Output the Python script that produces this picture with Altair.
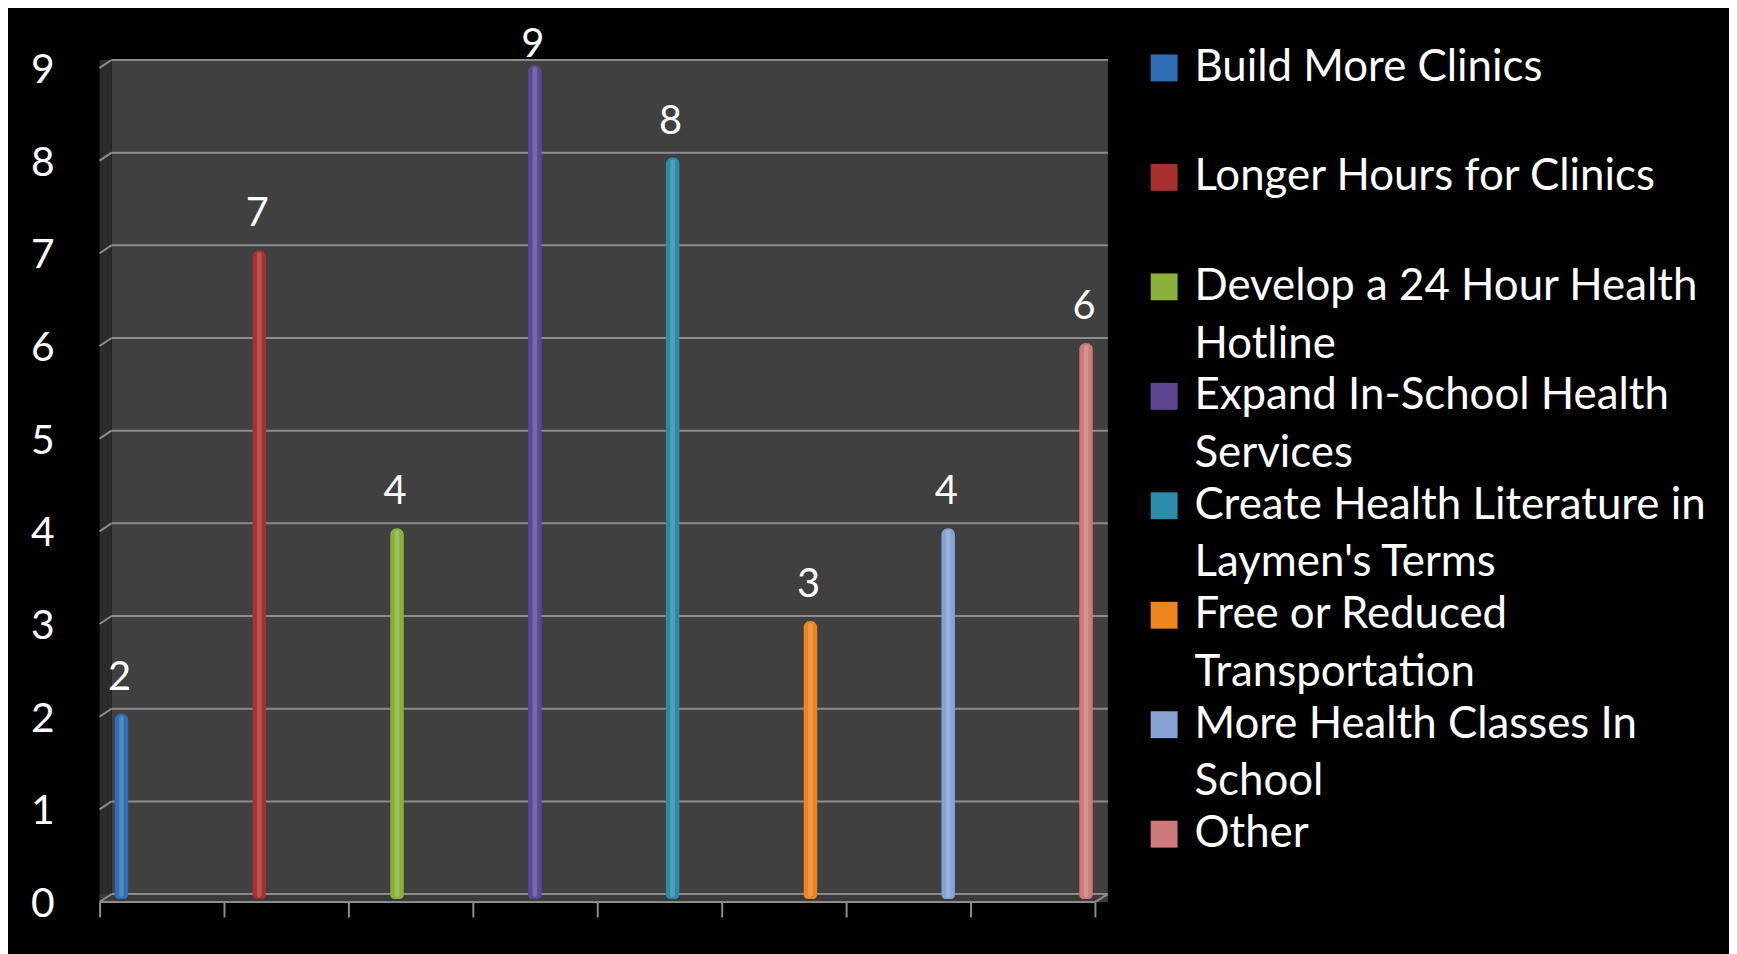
import altair as alt
import pandas as pd

# ---------------- data ----------------
categories = [
    "Build More Clinics",
    "Longer Hours for Clinics",
    "Develop a 24 Hour Health Hotline",
    "Expand In-School Health Services",
    "Create Health Literature in Laymen's Terms",
    "Free or Reduced Transportation",
    "More Health Classes In School",
    "Other",
]
legend_lines = [
    "Build More Clinics",
    "Longer Hours for Clinics",
    "Develop a 24 Hour Health\nHotline",
    "Expand In-School Health\nServices",
    "Create Health Literature in\nLaymen's Terms",
    "Free or Reduced\nTransportation",
    "More Health Classes In\nSchool",
    "Other",
]
values = [2, 7, 4, 9, 8, 3, 4, 6]
colors = ["#2f6db5", "#a8312f", "#8bb03c", "#5f4692",
          "#2a8bab", "#f0841f", "#86a3d5", "#cc7a7a"]
y_ticks = [0, 1, 2, 3, 4, 5, 6, 7, 8, 9]

# ---------------- styling ----------------
W, H = 1013, 838
FONT = "Lato"
GRID = "#8c8c8c"

bars_df = pd.DataFrame({"Category": categories, "Votes": values})
grid_df = pd.DataFrame({"v": y_ticks})
legend_df = pd.DataFrame({"Category": categories, "Label": legend_lines,
                          "Row": list(range(len(categories)))})
one = pd.DataFrame({"k": [0]})

yscale = alt.Scale(domain=[0, 9], nice=False, zero=True)
color = alt.Color("Category:N", scale=alt.Scale(domain=categories, range=colors), legend=None)

back_wall = alt.Chart(one).mark_rect(color="#404040", yOffset=-8, y2Offset=-8).encode(
    x=alt.value(12), x2=alt.value(W), y=alt.datum(9), y2=alt.datum(0))
side_wall = alt.Chart(one).mark_rect(color="#2b2b2b", yOffset=-8).encode(
    x=alt.value(0), x2=alt.value(12), y=alt.datum(9), y2=alt.datum(0))
floor = alt.Chart(one).mark_rect(color="#3a3a3a", yOffset=-8).encode(
    x=alt.value(0), x2=alt.value(W), y=alt.datum(0), y2=alt.datum(0))

grid = alt.Chart(grid_df).mark_rule(color=GRID, strokeWidth=2, yOffset=-8).encode(
    x=alt.value(12), x2=alt.value(W),
    y=alt.Y("v:Q", scale=yscale,
            axis=alt.Axis(values=y_ticks, domain=True, domainColor=GRID, domainWidth=2,
                          ticks=True, tickSize=12, tickColor=GRID, tickWidth=2,
                          labels=False, grid=False, title=None)))
joints = alt.Chart(grid_df).mark_rule(color=GRID, strokeWidth=2, y2Offset=-8).encode(
    x=alt.value(0), x2=alt.value(12), y=alt.Y("v:Q", axis=None), y2=alt.Y2("v"))
y_labels = alt.Chart(grid_df).mark_text(
    align="right", baseline="middle", dy=3, fontSize=41, font=FONT, color="white").encode(
    x=alt.value(-45), y=alt.Y("v:Q", axis=None), text="v:Q")
front_line = alt.Chart(one).mark_rule(color=GRID, strokeWidth=2).encode(
    x=alt.value(0), x2=alt.value(1000), y=alt.datum(0))
right_joint = alt.Chart(one).mark_rule(color=GRID, strokeWidth=2, y2Offset=-8).encode(
    x=alt.value(1000), x2=alt.value(W), y=alt.datum(0), y2=alt.datum(0))

ticks_layer = alt.Chart(bars_df).mark_point(opacity=0).encode(
    x=alt.X("Category:N", sort=categories,
            scale=alt.Scale(type="band", paddingInner=0, paddingOuter=0.052, align=0),
            axis=alt.Axis(labels=False, domain=False, tickBand="extent", tickSize=15,
                          tickColor=GRID, tickWidth=2, title=None)),
    y=alt.datum(0))

bar_x = alt.X("Category:N", sort=categories,
              scale=alt.Scale(paddingInner=0.9025, paddingOuter=0.11, align=0.5), axis=None)

bars = alt.Chart(bars_df).mark_bar(
    yOffset=-3, y2Offset=-3, cornerRadiusTopLeft=6.5, cornerRadiusTopRight=6.5,
    cornerRadiusBottomLeft=4, cornerRadiusBottomRight=4).encode(
    x=bar_x, y=alt.Y("Votes:Q", axis=None), y2=alt.datum(0), color=color)
highlight = alt.Chart(bars_df).mark_bar(
    color="white", opacity=0.18, width={"band": 0.35}, yOffset=-1, y2Offset=-5,
    cornerRadius=2).encode(
    x=bar_x, y=alt.Y("Votes:Q", axis=None), y2=alt.datum(0))
labels = alt.Chart(bars_df).transform_calculate(
    label_pos="min(datum.Votes, 8.83)").mark_text(
    dy=-39, dx=-2, fontSize=40, font=FONT, color="white", baseline="middle").encode(
    x=bar_x, y=alt.Y("label_pos:Q", axis=None), text="Votes:Q")

bar_group = alt.layer(bars, highlight, labels)

main = alt.layer(back_wall, side_wall, floor, grid, joints, y_labels, front_line, right_joint,
                 ticks_layer, bar_group).resolve_scale(x="independent")

leg_y = alt.Y("Row:Q", scale=alt.Scale(domain=[0, 7.62], reverse=True, nice=False, zero=False),
              axis=None)
swatches = alt.Chart(legend_df).mark_square(size=729, opacity=1, filled=True).encode(
    x=alt.value(1069.5), y=leg_y, color=color)
leg_text = alt.Chart(legend_df).mark_text(
    align="left", baseline="top", dy=-22, fontSize=44, font=FONT, color="white",
    lineBreak="\n", lineHeight=58).encode(
    x=alt.value(1100), y=leg_y, text="Label:N")
legend = alt.layer(swatches, leg_text)

chart = alt.layer(main, legend).resolve_scale(x="independent", y="independent").properties(
    width=W, height=H,
    padding={"left": 92, "top": 58, "right": 624, "bottom": 50},
    autosize=alt.AutoSizeParams(type="none"),
    background="black",
).configure_view(stroke=None)

chart.save("out.html", embed_options={"renderer": "svg", "actions": False})
